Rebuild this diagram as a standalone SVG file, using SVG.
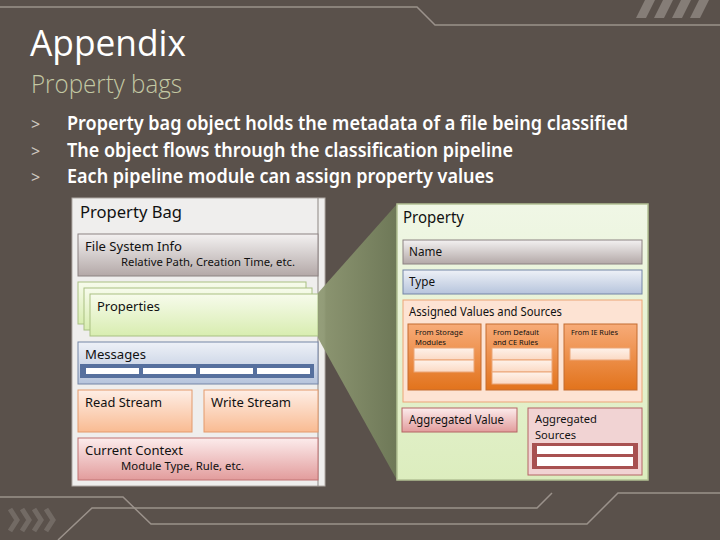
<svg xmlns="http://www.w3.org/2000/svg" width="720" height="540" viewBox="0 0 720 540">
<defs>
<linearGradient id="gGrey" x1="0" y1="0" x2="0" y2="1"><stop offset="0" stop-color="#f3f1f1"/><stop offset="1" stop-color="#b3a8a7"/></linearGradient>
<linearGradient id="gGreen" x1="0" y1="0" x2="0" y2="1"><stop offset="0" stop-color="#f7fbec"/><stop offset="1" stop-color="#d8edb0"/></linearGradient>
<linearGradient id="gBlue" x1="0" y1="0" x2="0" y2="1"><stop offset="0" stop-color="#eef1f7"/><stop offset="1" stop-color="#b6c4dc"/></linearGradient>
<linearGradient id="gPeach" x1="0" y1="0" x2="0" y2="1"><stop offset="0" stop-color="#feeee6"/><stop offset="1" stop-color="#f9bb92"/></linearGradient>
<linearGradient id="gPink" x1="0" y1="0" x2="0" y2="1"><stop offset="0" stop-color="#fcecec"/><stop offset="1" stop-color="#e29c9c"/></linearGradient>
<linearGradient id="gOrange" x1="0" y1="0" x2="0" y2="1"><stop offset="0" stop-color="#f7ab78"/><stop offset="1" stop-color="#e2731c"/></linearGradient>
<linearGradient id="gSlot" x1="0" y1="0" x2="0" y2="1"><stop offset="0" stop-color="#fef2ea"/><stop offset="1" stop-color="#fbd9c3"/></linearGradient>
<linearGradient id="gPanel" x1="0" y1="0" x2="0" y2="1"><stop offset="0" stop-color="#f0f7e6"/><stop offset="1" stop-color="#dcedbe"/></linearGradient>
<linearGradient id="gZoom" x1="0" y1="0" x2="1" y2="0"><stop offset="0" stop-color="#909a74"/><stop offset="1" stop-color="#6f7a58"/></linearGradient>
</defs>
<style>
.t{font-family:"Noto Sans","Open Sans","DejaVu Sans",sans-serif;fill:#111}
.lbl{font-size:12.5px}
.lbl2{font-size:11.5px}
.sub{font-size:11px}
.tiny{font-size:7px}
.hdr{font-size:16.5px}
.deco{fill:none;stroke:#9b928b;stroke-width:1.5}
.bul{font-family:"Noto Sans","Open Sans",sans-serif;font-weight:600;font-size:20.5px;fill:#ffffff}
.arrow{font-family:"Noto Sans",sans-serif;font-size:16px;fill:#cfc8c0}
.box{stroke-width:1}
</style>
<rect x="0" y="0" width="720" height="540" fill="#5a514b"/>
<g id="decoration">
<polyline class="deco" points="0,7 417,7 435,25 720,25"/>
<polyline class="deco" points="0,497 123,497 151,524 587,524 618,493 720,493"/>
<polyline class="deco" points="58,540 92,508 537,508 552,493"/>
<g fill="#857d77">
<polygon points="645,0 655,0 646,18 636,18"/>
<polygon points="663,0 673,0 664,18 654,18"/>
<polygon points="681,0 691,0 682,18 672,18"/>
<polygon points="699,0 709,0 700,18 690,18"/>
</g>
<g fill="none" stroke="#726a64" stroke-width="5" stroke-linejoin="miter">
<polyline points="10,509 17,520 10,531"/>
<polyline points="22,509 29,520 22,531"/>
<polyline points="34,509 41,520 34,531"/>
<polyline points="46,509 53,520 46,531"/>
</g>
</g>
<g id="title">
<text x="30" y="56" font-family="'Open Sans','Noto Sans',sans-serif" font-size="36" fill="#ffffff" textLength="156" lengthAdjust="spacingAndGlyphs">Appendix</text>
<text x="31" y="93" font-family="'Open Sans','Noto Sans',sans-serif" font-weight="300" font-size="25" fill="#c3c8a3" textLength="151" lengthAdjust="spacingAndGlyphs">Property bags</text>
</g>
<g id="bullets">
<text class="arrow" x="31" y="130">&gt;</text>
<text class="arrow" x="31" y="157">&gt;</text>
<text class="arrow" x="31" y="183">&gt;</text>
<text class="bul" x="67" y="130" textLength="561" lengthAdjust="spacingAndGlyphs">Property bag object holds the metadata of a file being classified</text>
<text class="bul" x="67" y="157" textLength="446" lengthAdjust="spacingAndGlyphs">The object flows through the classification pipeline</text>
<text class="bul" x="67" y="183" textLength="427" lengthAdjust="spacingAndGlyphs">Each pipeline module can assign property values</text>
</g>
<g id="property-bag">
<rect x="72" y="198" width="253" height="288" fill="#efeeed" stroke="#b0aaa5"/>
<line x1="318" y1="198" x2="318" y2="486" stroke="#8d8783"/>
<text class="t hdr" x="80" y="218" textLength="102" lengthAdjust="spacingAndGlyphs">Property Bag</text>
</g>
<g id="file-system-info">
<rect class="box" x="78" y="234" width="240" height="42" fill="url(#gGrey)" stroke="#8c8282"/>
<text class="t lbl" x="85" y="251" textLength="97" lengthAdjust="spacingAndGlyphs">File System Info</text>
<text class="t sub" x="121" y="266" textLength="174" lengthAdjust="spacingAndGlyphs">Relative Path, Creation Time, etc.</text>
</g>
<g id="properties">
<rect class="box" x="78" y="282" width="228" height="42" fill="url(#gGreen)" stroke="#a9c082"/>
<rect class="box" x="84" y="288" width="228" height="42" fill="url(#gGreen)" stroke="#a9c082"/>
<rect class="box" x="90" y="294" width="228" height="42" fill="url(#gGreen)" stroke="#a9c082"/>
<text class="t lbl" x="97" y="311" textLength="63" lengthAdjust="spacingAndGlyphs">Properties</text>
</g>
<g id="messages">
<rect class="box" x="78" y="342" width="240" height="42" fill="url(#gBlue)" stroke="#7485a6"/>
<text class="t lbl" x="85" y="359" textLength="61" lengthAdjust="spacingAndGlyphs">Messages</text>
<rect x="80" y="364" width="234" height="14" fill="#56709e"/>
<g fill="#ffffff">
<rect x="86" y="368" width="53" height="6"/>
<rect x="143" y="368" width="53" height="6"/>
<rect x="200" y="368" width="53" height="6"/>
<rect x="257" y="368" width="53" height="6"/>
</g>
</g>
<g id="read-stream">
<rect class="box" x="78" y="390" width="114" height="42" fill="url(#gPeach)" stroke="#e39a6c"/>
<text class="t lbl" x="85" y="407" textLength="77" lengthAdjust="spacingAndGlyphs">Read Stream</text>
</g>
<g id="write-stream">
<rect class="box" x="204" y="390" width="114" height="42" fill="url(#gPeach)" stroke="#e39a6c"/>
<text class="t lbl" x="211" y="407" textLength="80" lengthAdjust="spacingAndGlyphs">Write Stream</text>
</g>
<g id="current-context">
<rect class="box" x="78" y="438" width="240" height="42" fill="url(#gPink)" stroke="#c07272"/>
<text class="t lbl" x="85" y="455" textLength="98" lengthAdjust="spacingAndGlyphs">Current Context</text>
<text class="t sub" x="121" y="470" textLength="123" lengthAdjust="spacingAndGlyphs">Module Type, Rule, etc.</text>
</g>
<g id="connectors">
<polygon points="318,293 397,204 397,480 318,338" fill="url(#gZoom)" opacity="0.95"/>
</g>
<g id="property">
<rect x="397" y="204" width="251" height="276" fill="url(#gPanel)" stroke="#b3c194" stroke-width="1.5"/>
<text class="t hdr" x="403" y="223" textLength="61" lengthAdjust="spacingAndGlyphs">Property</text>
</g>
<g id="name">
<rect class="box" x="403" y="240" width="239" height="24" fill="url(#gGrey)" stroke="#8c8282"/>
<text class="t lbl" x="409" y="256" textLength="33" lengthAdjust="spacingAndGlyphs">Name</text>
</g>
<g id="type">
<rect class="box" x="403" y="270" width="239" height="24" fill="url(#gBlue)" stroke="#7485a6"/>
<text class="t lbl" x="409" y="286" textLength="26" lengthAdjust="spacingAndGlyphs">Type</text>
</g>
<g id="assigned-values">
<rect class="box" x="403" y="300" width="239" height="102" fill="#fde3d3" stroke="#eba576"/>
<text class="t lbl" x="409" y="316" textLength="153" lengthAdjust="spacingAndGlyphs">Assigned Values and Sources</text>
</g>
<g id="from-storage">
<rect class="box" x="408" y="324" width="73" height="66" fill="url(#gOrange)" stroke="#c46c30"/>
<text class="t tiny" x="415" y="335" textLength="48" lengthAdjust="spacingAndGlyphs">From Storage</text>
<text class="t tiny" x="415" y="345" textLength="31" lengthAdjust="spacingAndGlyphs">Modules</text>
<rect x="414" y="348" width="60" height="12" fill="url(#gSlot)" stroke="#eba576"/>
<rect x="414" y="360" width="60" height="12" fill="url(#gSlot)" stroke="#eba576"/>
</g>
<g id="from-default">
<rect class="box" x="486" y="324" width="72" height="66" fill="url(#gOrange)" stroke="#c46c30"/>
<text class="t tiny" x="493" y="335" textLength="46" lengthAdjust="spacingAndGlyphs">From Default</text>
<text class="t tiny" x="493" y="345" textLength="45" lengthAdjust="spacingAndGlyphs">and CE Rules</text>
<rect x="492" y="348" width="60" height="12" fill="url(#gSlot)" stroke="#eba576"/>
<rect x="492" y="360" width="60" height="12" fill="url(#gSlot)" stroke="#eba576"/>
<rect x="492" y="372" width="60" height="12" fill="url(#gSlot)" stroke="#eba576"/>
</g>
<g id="from-ie">
<rect class="box" x="564" y="324" width="73" height="66" fill="url(#gOrange)" stroke="#c46c30"/>
<text class="t tiny" x="571" y="335" textLength="47" lengthAdjust="spacingAndGlyphs">From IE Rules</text>
<rect x="570" y="348" width="60" height="12" fill="url(#gSlot)" stroke="#eba576"/>
</g>
<g id="aggregated-value">
<rect class="box" x="402" y="408" width="115" height="24" fill="url(#gPink)" stroke="#b46464"/>
<text class="t lbl" x="409" y="424" textLength="95" lengthAdjust="spacingAndGlyphs">Aggregated Value</text>
</g>
<g id="aggregated-sources">
<rect class="box" x="528" y="408" width="114" height="67" fill="#f1d3d3" stroke="#b46464"/>
<text class="t lbl2" x="535" y="423" textLength="62" lengthAdjust="spacingAndGlyphs">Aggregated</text>
<text class="t lbl2" x="535" y="439" textLength="41" lengthAdjust="spacingAndGlyphs">Sources</text>
<rect x="532" y="443" width="106" height="26" fill="#a85151"/>
<rect x="537" y="446" width="96" height="8" fill="#ffffff"/>
<rect x="537" y="457" width="96" height="9" fill="#ffffff"/>
</g>
</svg>
